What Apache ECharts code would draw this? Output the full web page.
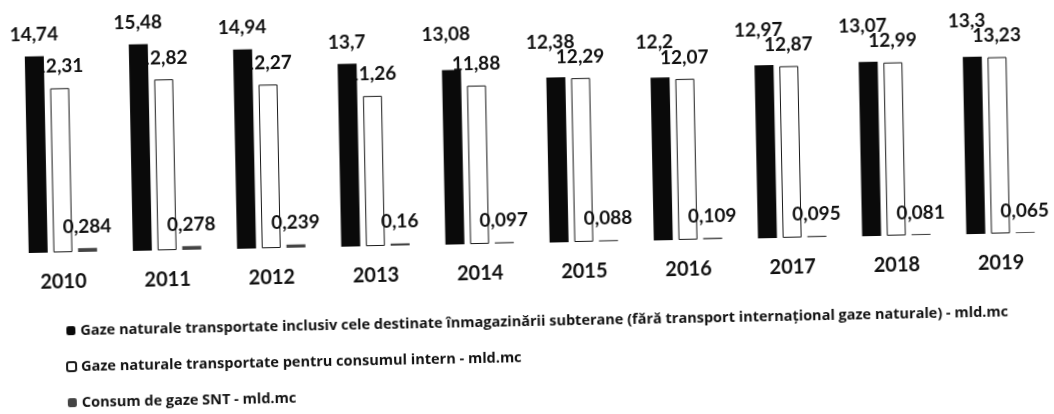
<!DOCTYPE html>
<html>
<head>
<meta charset="utf-8">
<script src="https://cdn.jsdelivr.net/npm/echarts@6/dist/echarts.min.js"></script>
<style>
  html, body { margin: 0; padding: 0; background: #fff; overflow: hidden; }
  /* the scanned original is slightly tilted */
  #chart { width: 1054px; height: 414px; transform: rotate(-1.15deg); }
</style>
</head>
<body>
<div id="chart"></div>
<script>
var years = ['2010', '2011', '2012', '2013', '2014', '2015', '2016', '2017', '2018', '2019'];
var transportTotal = [14.74, 15.48, 14.94, 13.7, 13.08, 12.38, 12.2, 12.97, 13.07, 13.3];
var transportIntern = [12.31, 12.82, 12.27, 11.26, 11.88, 12.29, 12.07, 12.87, 12.99, 13.23];
var consumSnt = [0.284, 0.278, 0.239, 0.16, 0.097, 0.088, 0.109, 0.095, 0.081, 0.065];
var seriesNames = [
    'Gaze naturale transportate inclusiv cele destinate înmagazinării subterane (fără transport internațional gaze naturale) - mld.mc',
    'Gaze naturale transportate pentru consumul intern - mld.mc',
    'Consum de gaze SNT - mld.mc'
];

var font = 'Lato, "Open Sans", sans-serif';

// valori cu virgula zecimala, ca in original
function comma(p) {
    return String(p.value).replace('.', ',');
}

var labelStyle = {
    show: true,
    position: 'top',
    distance: 12,
    formatter: comma,
    color: '#111',
    fontFamily: font,
    fontWeight: 'bold',
    fontSize: 19
};

var chart = echarts.init(document.getElementById('chart'));
var option = {
    animation: false,
    backgroundColor: '#fff',
    grid: {
        left: 10,
        right: 2,
        top: 3,
        bottom: 171
    },
    legend: {
        orient: 'vertical',
        left: 58,
        top: 309,
        itemGap: 21,
        itemWidth: 9,
        itemHeight: 9,
        textStyle: {
            color: '#111',
            fontFamily: '"Open Sans", sans-serif',
            fontWeight: 'bold',
            fontSize: 14.5
        },
        data: seriesNames
    },
    xAxis: {
        type: 'category',
        data: years,
        axisLine: { show: false },
        axisTick: { show: false },
        axisLabel: {
            margin: 20,
            color: '#111',
            fontFamily: font,
            fontWeight: 'bold',
            fontSize: 20
        }
    },
    yAxis: {
        type: 'value',
        min: 0,
        max: 18,
        show: false,
        splitLine: { show: false }
    },
    series: [{
        name: seriesNames[0],
        type: 'bar',
        z: 3,
        barWidth: 19,
        barGap: '30%',
        itemStyle: { color: '#0a0a0a' },
        label: labelStyle,
        // when the two tall bars are close, the label was moved up-left in the original
        labelLayout: function (p) {
            var i = p.dataIndex;
            if (transportTotal[i] - transportIntern[i] < 1.5) {
                return { dx: -5, dy: -14 };
            }
            return {};
        },
        data: transportTotal
    }, {
        name: seriesNames[1],
        type: 'bar',
        z: 2,
        barWidth: 19,
        barGap: '30%',
        itemStyle: { color: '#fff', borderColor: '#1a1a1a', borderWidth: 1 },
        label: labelStyle,
        data: transportIntern
    }, {
        name: seriesNames[2],
        type: 'bar',
        z: 2,
        barWidth: 19,
        barGap: '30%',
        itemStyle: { color: '#444' },
        label: labelStyle,
        data: consumSnt
    }]
};
chart.setOption(option);
</script>
</body>
</html>
